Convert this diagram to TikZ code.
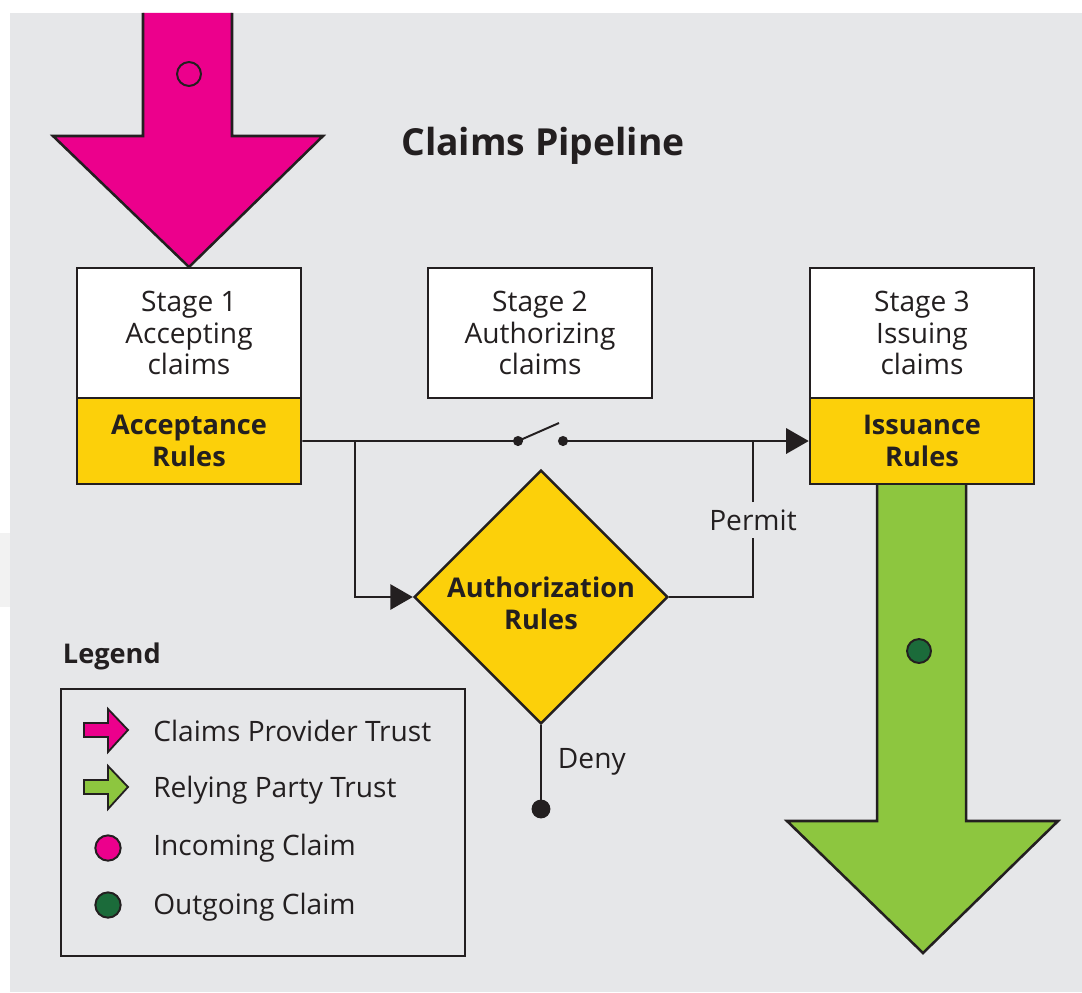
\documentclass[tikz,border=0pt]{standalone}
\usepackage{fontspec}
\setmainfont{Open Sans}
\usepackage{tikz}
\usetikzlibrary{shapes.geometric,arrows.meta}
\usepackage{color}
\definecolor{bggray}{RGB}{230,231,233}
\definecolor{inkblack}{RGB}{35,31,32}
\definecolor{trustpink}{RGB}{236,0,140}
\definecolor{trustgreen}{RGB}{141,198,63}
\definecolor{claimgreen}{RGB}{27,107,58}
\definecolor{rulesyellow}{RGB}{252,208,10}
\newcommand{\bodysize}{\fontsize{20}{22.7}\selectfont}
\newcommand{\boldsize}{\fontsize{19.3}{22.7}\selectfont\bfseries}
\tikzset{
	stagebox/.style={draw=inkblack, line width=1.8pt, fill=white, minimum width=5.6cm, minimum height=3.25cm, align=center, inner sep=0pt},
	rulesbox/.style={stagebox, fill=rulesyellow, minimum height=2.15cm, font=\boldsize},
	conn/.style={draw=inkblack, line width=1.4pt},
	tip/.style={-{Triangle[length=16pt,width=18pt]}},
	outline/.style={draw=inkblack, line width=1.8pt}
}

\begin{document}
\begin{tikzpicture}[x=0.025cm, y=-0.025cm, every node/.style={font=\bodysize, text=inkblack}]
				\useasboundingbox (0,0) rectangle (1082,992);
				\fill[white] (0,0) rectangle (1082,992);
				\fill[bggray] (10,13) rectangle (1082,992);
				\fill[black!5] (0,533) rectangle (10,607);
				% trust arrows
				\fill[trustpink] (143,13) -- (143,136) -- (53,136) -- (189,267) -- (323,136) -- (232,136) -- (232,13) -- cycle;
				\draw[outline] (143,13) -- (143,136) -- (53,136) -- (189,267) -- (323,136) -- (232,136) -- (232,13);
				\draw[inkblack, line width=1.4pt] (189,74) circle (8.5pt);
				\fill[trustgreen] (877,484) -- (877,821) -- (787,821) -- (923,953) -- (1058,821) -- (966,821) -- (966,484) -- cycle;
				\draw[outline] (877,484) -- (877,821) -- (787,821) -- (923,953) -- (1058,821) -- (966,821) -- (966,484);
				\draw[inkblack, line width=1.4pt, fill=claimgreen] (919,651) circle (8.5pt);
				% stages
				\node[font=\fontsize{26.5}{30}\selectfont\bfseries] (title) at (543,146) {Claims Pipeline};
				\node[stagebox] (stage1) at (189,333) {Stage 1\\Accepting\\claims};
				\node[rulesbox] (rules1) at (189,441) {Acceptance\\Rules};
				\node[stagebox] (stage2) at (540,333) {Stage 2\\Authorizing\\claims};
				\node[stagebox] (stage3) at (922,333) {Stage 3\\Issuing\\claims};
				\node[rulesbox] (rules3) at (922,441) {Issuance\\Rules};
				\node[diamond, draw=inkblack, line width=1.8pt, fill=rulesyellow, minimum width=6.25cm, minimum height=6.3cm, inner sep=0pt, align=center, font=\boldsize] (authz) at (541,597) {\rule{0pt}{24pt}Authorization\\Rules};
				% switch and branches
				\coordinate (switchL) at (518,441);
				\coordinate (switchR) at (563,441);
				\coordinate (lever) at (559,423);
				\coordinate (branch) at (355,441);
				\coordinate (permitjoin) at (753,441);
				\coordinate (denyend) at (541,809);
				\draw[conn] (rules1.east) -- (switchL) -- (lever);
				\draw[conn, tip] (switchR) -- (rules3.west);
				\fill[inkblack] (switchL) circle (3.6pt);
				\fill[inkblack] (switchR) circle (3.6pt);
				\draw[conn, tip] (branch) |- (authz.west);
				\node[inner sep=5pt] (permit) at (753,520) {Permit};
				\draw[conn] (authz.east) -| (permit.south);
				\draw[conn] (permit.north) -- (permitjoin);
				\draw[conn] (authz.south) -- (denyend);
				\fill[inkblack] (denyend) circle (6.7pt);
				\node[anchor=west] (deny) at (553,762) {Deny};
				% legend
				\node[anchor=west, font=\boldsize] (legend) at (58,656) {Legend};
				\draw[inkblack, line width=1.6pt] (61,689) rectangle (465,956);
				\foreach \y/\c in {730/trustpink, 787/trustgreen} {
					\draw[inkblack, line width=1.3pt, fill=\c, line join=miter] (84,\y-7) -- (108,\y-7) -- (108,\y-21) -- (128,\y) -- (108,\y+22) -- (108,\y+7) -- (84,\y+7) -- cycle;
				}
				\foreach \y/\c in {848/trustpink, 905/claimgreen} {
					\draw[inkblack, line width=1.4pt, fill=\c] (108,\y) circle (9pt);
				}
				\foreach \y/\t [count=\i] in {731/Claims Provider Trust, 790/Relying Party Trust, 848/Incoming Claim, 907/Outgoing Claim} {
					\node[anchor=west, inner sep=0pt] (leg\i) at (153,\y) {\t};
				}
			\end{tikzpicture}
\end{document}
